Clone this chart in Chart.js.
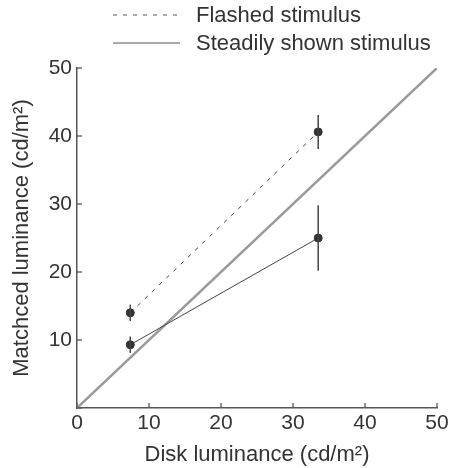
<!DOCTYPE html>
<html lang="en">
  <head>
    <meta charset="UTF-8" />
    <title>Matched luminance</title>
    <script src="https://cdn.jsdelivr.net/npm/chart.js"></script>
    <style>
      body {
        margin: 0;
        background: #fff;
      }
      div {
        width: 454px;
        height: 468px;
      }
    </style>
  </head>
  <body>
    <div>
      <canvas id="myChart"></canvas>
    </div>

    <script>
      // data
      const diskLum = [7.4, 33.5];
      const flashed = [14.0, 40.6];
      const flashedErr = [1.2, 2.5];
      const steady = [9.3, 25.0];
      const steadyErr = [1.2, 4.8];
      const identity = [0, 50];
      const ticks = [0, 10, 20, 30, 40, 50];

      const ink = "#333";
      const font = "'Liberation Sans', Arial, sans-serif";

      function toPoints(xs, ys) {
        return xs.map((x, i) => ({ x: x, y: ys[i] }));
      }

      // error bars + inward ticks
      const extras = {
        id: "extras",
        afterDatasetsDraw(chart) {
          const ctx = chart.ctx;
          const xS = chart.scales.x;
          const yS = chart.scales.y;
          ctx.save();
          ctx.strokeStyle = "#444";
          ctx.lineWidth = 1.5;
          [
            [flashed, flashedErr],
            [steady, steadyErr],
          ].forEach(([vals, errs]) => {
            vals.forEach((v, i) => {
              const px = xS.getPixelForValue(diskLum[i]);
              ctx.beginPath();
              ctx.moveTo(px, yS.getPixelForValue(v - errs[i]));
              ctx.lineTo(px, yS.getPixelForValue(v + errs[i]));
              ctx.stroke();
            });
          });
          // ticks pointing inside
          ctx.strokeStyle = "#555";
          ctx.lineWidth = 1.3;
          ticks.forEach((t) => {
            const px = xS.getPixelForValue(t);
            ctx.beginPath();
            ctx.moveTo(px, yS.bottom);
            ctx.lineTo(px, yS.bottom - 5);
            ctx.stroke();
            const py = yS.getPixelForValue(t);
            ctx.beginPath();
            ctx.moveTo(xS.left, py);
            ctx.lineTo(xS.left + 5, py);
            ctx.stroke();
          });
          ctx.restore();
        },
        afterDraw(chart) {
          // legend at the top, left aligned
          const ctx = chart.ctx;
          ctx.save();
          ctx.font = "22px " + font;
          ctx.fillStyle = ink;
          ctx.textBaseline = "middle";
          const rows = [chart.data.datasets[0], chart.data.datasets[1]];
          rows.forEach((ds, i) => {
            const y = 15 + i * 28;
            ctx.strokeStyle = "#555";
            ctx.lineWidth = 1;
            ctx.setLineDash(ds.borderDash || []);
            ctx.beginPath();
            ctx.moveTo(113, y);
            ctx.lineTo(180, y);
            ctx.stroke();
            ctx.setLineDash([]);
            ctx.fillText(ds.label, 196, y + 1);
          });
          ctx.restore();
        },
      };

      const ctx = document.getElementById("myChart");
      new Chart(ctx, {
        type: "scatter",
        data: {
          datasets: [
            {
              label: "Flashed stimulus",
              data: toPoints(diskLum, flashed),
              showLine: true,
              borderColor: "#444",
              borderWidth: 1,
              borderDash: [4, 6],
              pointRadius: 4,
              pointBackgroundColor: "#333",
              pointBorderColor: "#333",
            },
            {
              label: "Steadily shown stimulus",
              data: toPoints(diskLum, steady),
              showLine: true,
              borderColor: "#444",
              borderWidth: 1,
              pointRadius: 4,
              pointBackgroundColor: "#333",
              pointBorderColor: "#333",
            },
            {
              label: "identity",
              data: toPoints(identity, identity),
              showLine: true,
              borderColor: "#9a9a9a",
              borderWidth: 2.5,
              pointRadius: 0,
            },
          ],
        },
        options: {
          responsive: true,
          maintainAspectRatio: false,
          animation: false,
          layout: { padding: { top: 68, right: 17, left: 0, bottom: 0 } },
          plugins: {
            legend: { display: false },
            tooltip: { enabled: false },
          },
          scales: {
            x: {
              min: 0,
              max: 50,
              afterFit: (scale) => {
                scale.height = 60;
              },
              afterBuildTicks: (scale) => {
                scale.ticks = ticks.map((v) => ({ value: v }));
              },
              grid: { display: false, drawTicks: false },
              border: { display: true, color: "#555", width: 1.5 },
              ticks: {
                color: ink,
                font: { family: font, size: 21 },
                padding: 3,
                maxRotation: 0,
              },
              title: {
                display: true,
                text: "Disk luminance (cd/m\u00B2)",
                color: ink,
                font: { family: font, size: 22 },
                padding: { top: 0, bottom: 0 },
              },
            },
            y: {
              min: 0,
              max: 50,
              afterFit: (scale) => {
                scale.width = 77;
              },
              afterBuildTicks: (scale) => {
                scale.ticks = ticks.map((v) => ({ value: v }));
              },
              grid: { display: false, drawTicks: false },
              border: { display: true, color: "#555", width: 1.5 },
              ticks: {
                color: ink,
                font: { family: font, size: 21 },
                padding: 5,
                // the shared origin is labelled once, on the x axis
                callback: (v) => (v === 0 ? "" : v),
              },
              title: {
                display: true,
                text: "Matchced luminance (cd/m\u00B2)",
                color: ink,
                font: { family: font, size: 22 },
                padding: { top: 9, bottom: 0 },
              },
            },
          },
        },
        plugins: [extras],
      });
    </script>
  </body>
</html>
